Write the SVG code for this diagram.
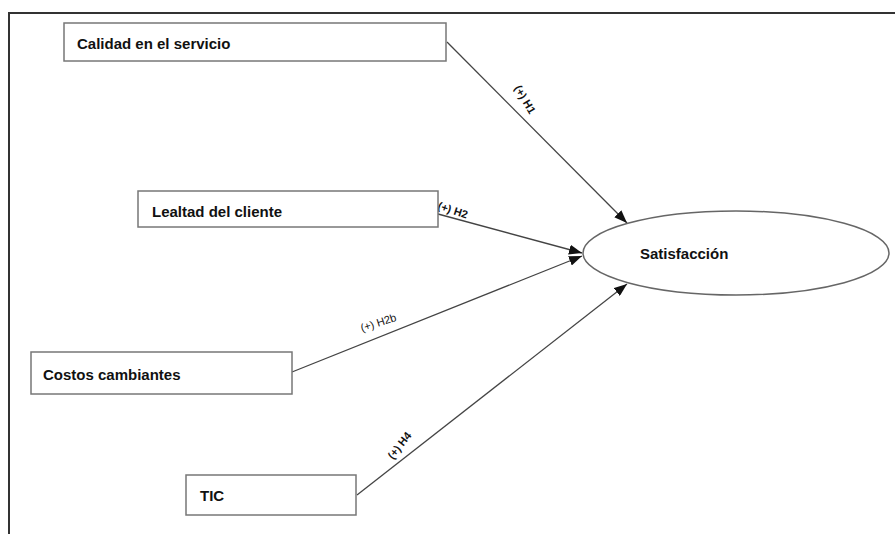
<svg xmlns="http://www.w3.org/2000/svg" width="895" height="534" viewBox="0 0 895 534">
<style>
.box{fill:#fff;stroke:#777;stroke-width:1.5}
.lbl{font-family:"Liberation Sans",Arial,sans-serif;font-weight:bold;font-size:15px;fill:#111}
.conn{stroke:#444;stroke-width:1.3;fill:none}
.hl{font-family:"Liberation Sans",Arial,sans-serif;font-size:11px;fill:#111}
.b{font-weight:bold}
</style>
<defs>
<marker id="ah" markerUnits="userSpaceOnUse" markerWidth="14" markerHeight="10" refX="13" refY="5" orient="auto">
<path d="M0,0 L13,5 L0,10 Z" fill="#111"/>
</marker>
</defs>
<rect width="895" height="534" fill="#fff"/>
<path d="M895,13 H9 V534" fill="none" stroke="#333" stroke-width="2"/>
<g id="connectors">
<line class="conn" x1="447" y1="42" x2="627" y2="223" marker-end="url(#ah)"/>
<line class="conn" x1="438" y1="214" x2="582" y2="253" stroke-width="2.2" stroke="#222" marker-end="url(#ah)"/>
<line class="conn" x1="292" y1="372" x2="582" y2="256" marker-end="url(#ah)"/>
<line class="conn" x1="357" y1="495" x2="627" y2="284" marker-end="url(#ah)"/>
<text class="hl b" transform="translate(514,88) rotate(60)">(+) H1</text>
<text class="hl b" transform="translate(437,209) rotate(18)">(+) H2</text>
<text class="hl" transform="translate(362,332) rotate(-18)">(+) H2b</text>
<text class="hl b" transform="translate(393,460) rotate(-52)">(+) H4</text>
</g>
<g id="calidad">
<rect class="box" x="64" y="23" width="382" height="38"/>
<text class="lbl" x="77" y="49">Calidad en el servicio</text>
</g>
<g id="lealtad">
<rect class="box" x="138" y="191" width="300" height="36"/>
<text class="lbl" x="152" y="217">Lealtad del cliente</text>
</g>
<g id="costos">
<rect class="box" x="31" y="352" width="261" height="42"/>
<text class="lbl" x="43" y="380">Costos cambiantes</text>
</g>
<g id="tic">
<rect class="box" x="186" y="475" width="170" height="40"/>
<text class="lbl" x="200" y="501">TIC</text>
</g>
<g id="satisfaccion">
<ellipse cx="736" cy="253" rx="153" ry="42" fill="#fff" stroke="#666" stroke-width="1.5"/>
<text class="lbl" x="640" y="259">Satisfacción</text>
</g>
</svg>
